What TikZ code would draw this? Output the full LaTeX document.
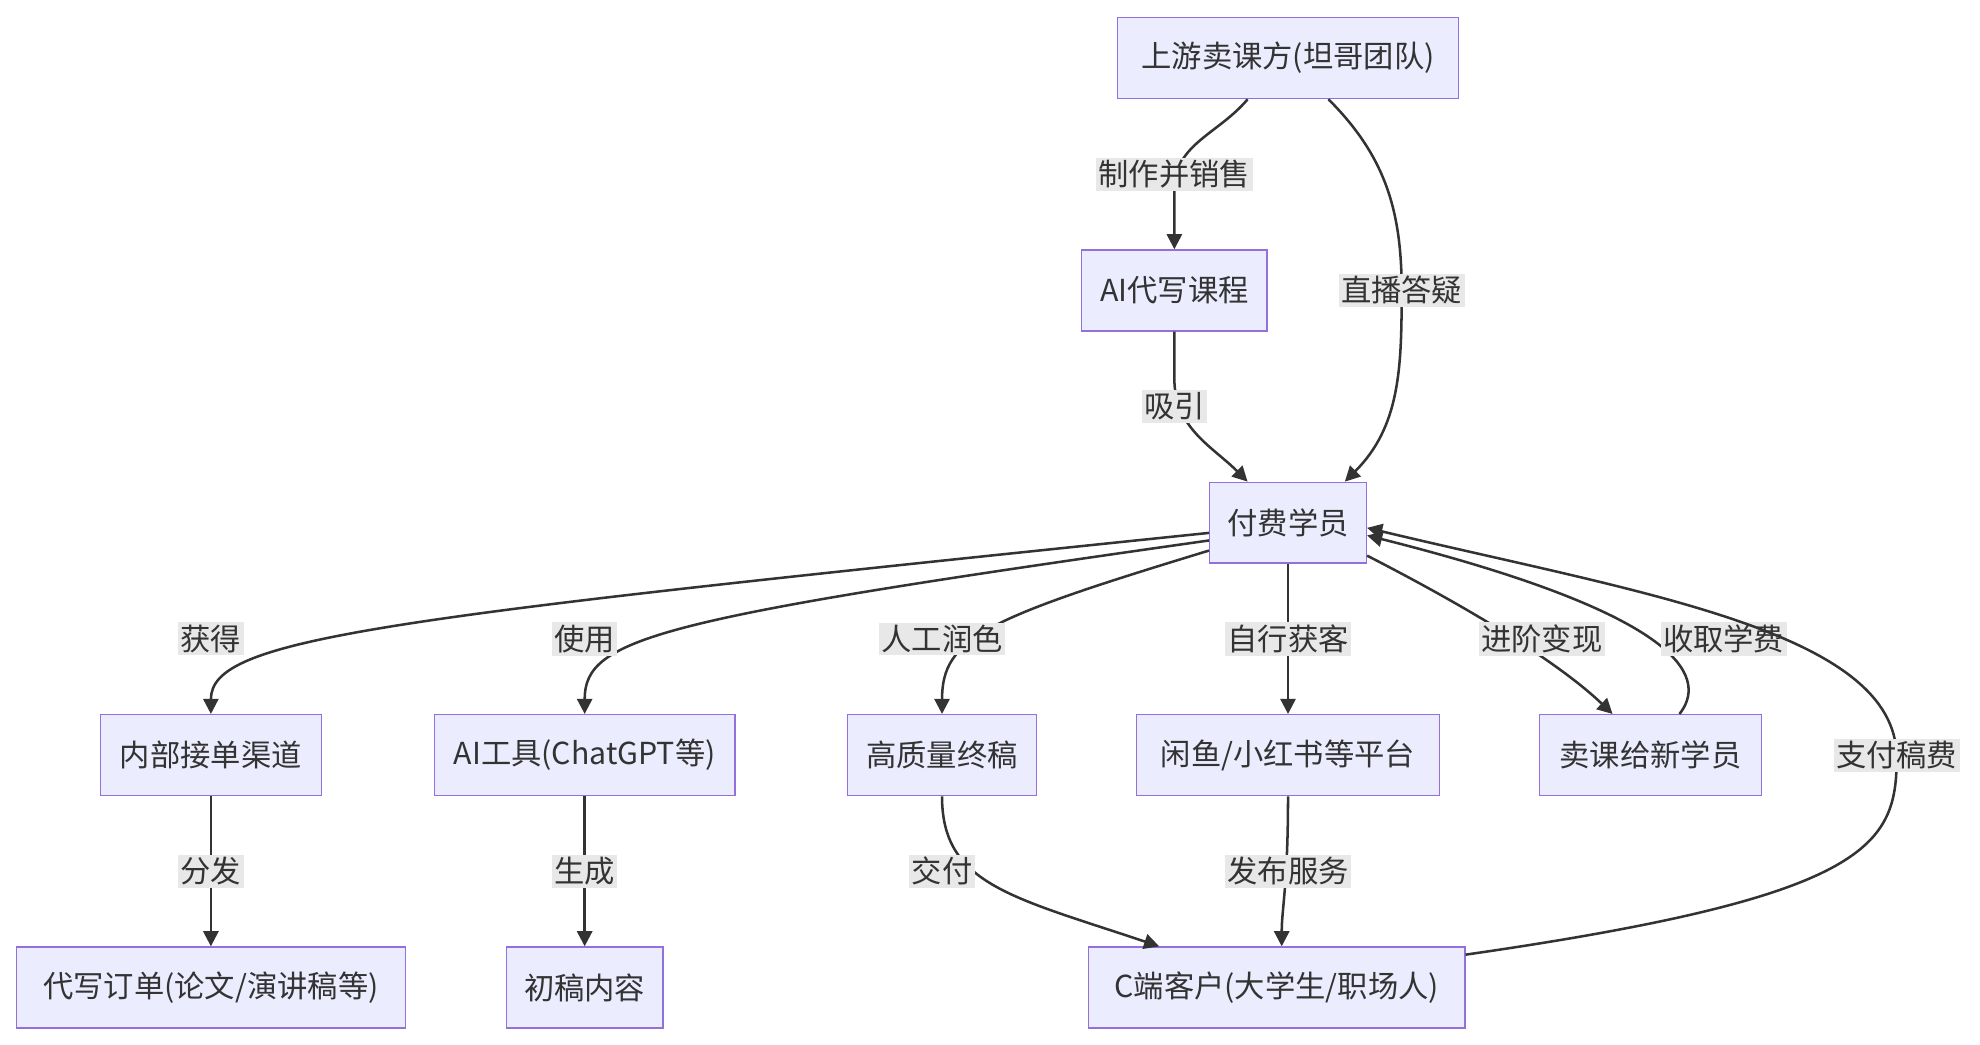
\documentclass[tikz,border=0pt]{standalone}
\usepackage{fontspec}
\setmainfont{Noto Sans CJK SC}
\usetikzlibrary{arrows.meta,calc}
\definecolor{nfill}{HTML}{ECECFF}
\definecolor{ndraw}{HTML}{9370DB}
\definecolor{ecol}{HTML}{333333}
\definecolor{lfill}{HTML}{E8E8E8}
\begin{document}
\begin{tikzpicture}[x=0.5pt,y=0.5pt,
  box/.style={draw=ndraw,fill=nfill,line width=0.6pt,minimum height=32pt,inner sep=0pt,font=\fontsize{12}{14}\selectfont,text=ecol},
  lbl/.style={fill=lfill,inner sep=1pt,font=\fontsize{12}{14}\selectfont,text=ecol},
  arr/.style={draw=ecol,line width=1pt,-{Triangle[length=6pt,width=6pt]}}]
\useasboundingbox (0,0) rectangle (1568,-827);
\node[box,minimum width=135pt] (top) at (1020,-46) {上游卖课方(坦哥团队)};
\node[box,minimum width=73.5pt] (ai) at (930,-230) {AI代写课程};
\node[box,minimum width=62pt] (pay) at (1020,-414) {付费学员};
\node[box,minimum width=87.5pt] (nb) at (167,-598) {内部接单渠道};
\node[box,minimum width=119pt] (tool) at (463,-598) {AI工具(ChatGPT等)};
\node[box,minimum width=75pt] (hq) at (746,-598) {高质量终稿};
\node[box,minimum width=120pt] (plat) at (1020,-598) {闲鱼/小红书等平台};
\node[box,minimum width=88pt] (sell) at (1307,-598) {卖课给新学员};
\node[box,minimum width=154pt] (ord) at (167,-782) {代写订单(论文/演讲稿等)};
\node[box,minimum width=62pt] (draft) at (463,-782) {初稿内容};
\node[box,minimum width=149pt] (cust) at (1011,-782) {C端客户(大学生/职场人)};

\draw[arr] ($(top.south)+(-32,0)$) to[out=-130,in=90] (930,-150) -- (ai.north);
\node[lbl] at (930,-138) {制作并销售};
\draw[arr] ($(top.south)+(32,0)$) to[out=-45,in=90] (1110,-230) to[out=-90,in=45] ($(pay.north)+(45,0)$);
\node[lbl] at (1110,-230) {直播答疑};
\draw[arr] (ai.south) -- (930,-300) to[out=-90,in=135] ($(pay.north)+(-32,0)$);
\node[lbl] at (930,-322) {吸引};
\draw[arr] ($(pay.west)+(0,-8)$) .. controls (300,-490) and (167,-505) .. (nb.north);
\node[lbl] at (167,-506) {获得};
\draw[arr] ($(pay.west)+(0,-14)$) .. controls (520,-490) and (463,-505) .. (tool.north);
\node[lbl] at (463,-506) {使用};
\draw[arr] ($(pay.west)+(0,-22)$) .. controls (780,-490) and (746,-505) .. (hq.north);
\node[lbl] at (746,-506) {人工润色};
\draw[arr] (pay.south) -- (plat.north);
\node[lbl] at (1020,-506) {自行获客};
\draw[arr] ($(pay.east)+(0,-26)$) .. controls (1180,-490) and (1240,-530) .. ($(sell.north)+(-30,0)$);
\node[lbl] at (1221,-506) {进阶变现};
\draw[arr] ($(sell.north)+(23,0)$) .. controls (1350,-540) and (1345,-490) .. ($(pay.east)+(0,-10)$);
\node[lbl] at (1365,-506) {收取学费};
\draw[arr] ($(cust.east)+(0,26)$) .. controls (1480,-710) and (1502,-670) .. (1502,-600) .. controls (1502,-500) and (1300,-470) .. ($(pay.east)+(0,-4)$);
\node[lbl] at (1502,-598) {支付稿费};
\draw[arr] (nb.south) -- (ord.north);
\node[lbl] at (167,-690) {分发};
\draw[arr] (tool.south) -- (draft.north);
\node[lbl] at (463,-690) {生成};
\draw[arr] (hq.south) .. controls (746,-700) and (800,-710) .. ($(cust.north)+(-93,0)$);
\node[lbl] at (746,-690) {交付};
\draw[arr] (plat.south) .. controls (1020,-700) and (1015,-720) .. ($(cust.north)+(4,0)$);
\node[lbl] at (1020,-690) {发布服务};
\end{tikzpicture}
\end{document}
